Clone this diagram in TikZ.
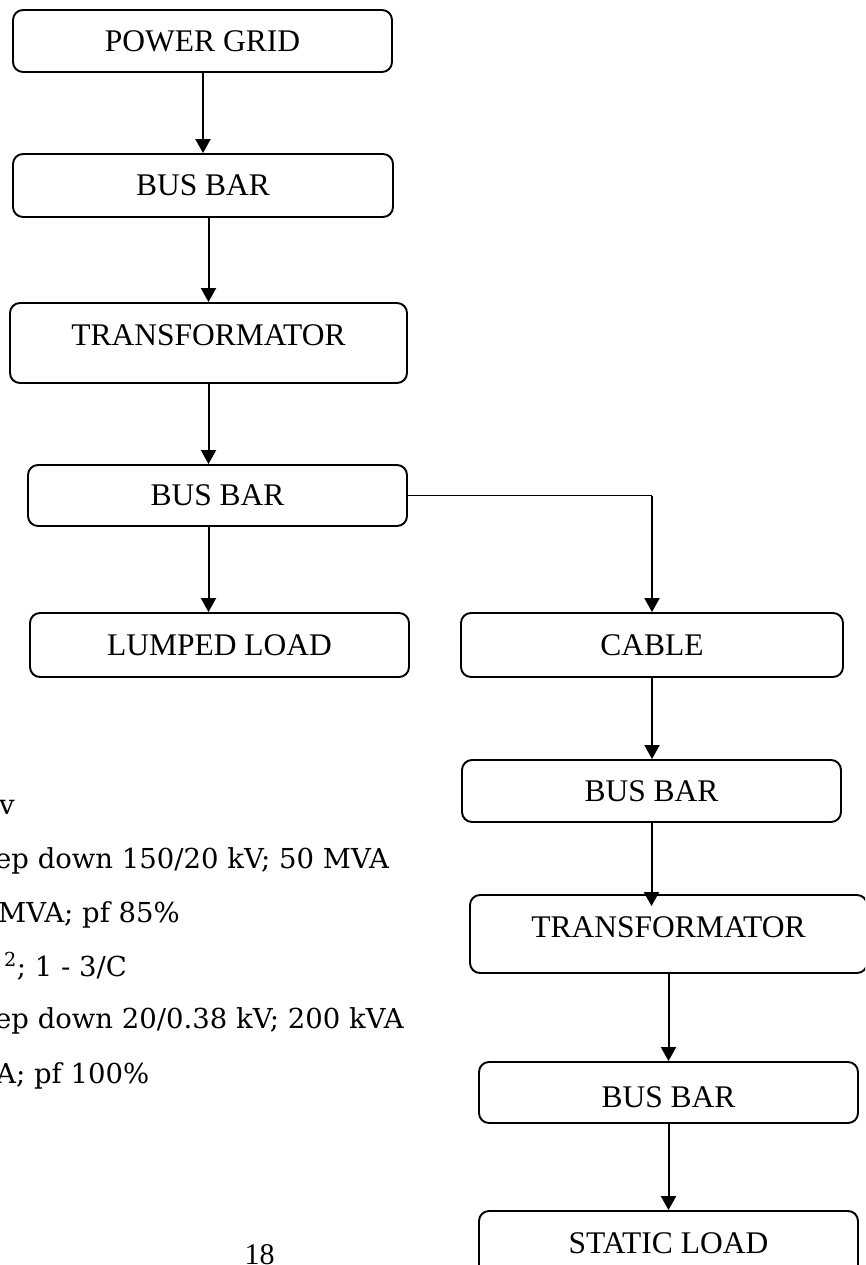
\documentclass[tikz,border=0pt]{standalone}
\usepackage{fontspec}
\setmainfont{Liberation Serif}
\newfontfamily\notefont{DejaVu Serif}
\usetikzlibrary{arrows.meta}
\begin{document}
\begin{tikzpicture}[x=1pt,y=-1pt,
  blk/.style={draw, line width=1.9pt, rounded corners=10pt, inner sep=0pt,
    font=\fontsize{31.5}{36}\selectfont},
  arr/.style={-{Triangle[length=14pt,width=15pt]}, line width=2pt},
  link/.style={line width=1.5pt},
  note/.style={anchor=base west, inner sep=0pt, font=\notefont\fontsize{27.5}{32}\selectfont}]
\clip (0,0) rectangle (865,1265);
\fill[white] (0,0) rectangle (865,1265);

% boxes
\node[blk, minimum width=379pt, minimum height=62pt] (pg)  at (202.5,41)   {POWER GRID};
\node[blk, minimum width=380pt, minimum height=63pt] (bb1) at (203,185.5)  {BUS BAR};
\node[blk, minimum width=397pt, minimum height=80pt] (tr1) at (208.5,343)  {\raisebox{7.5pt}[\height][\depth]{TRANSFORMATOR}};
\node[blk, minimum width=379pt, minimum height=61pt] (bb2) at (217.5,495.5){BUS BAR};
\node[blk, minimum width=379pt, minimum height=64pt] (ll)  at (219.5,645)  {LUMPED LOAD};
\node[blk, minimum width=382pt, minimum height=64pt] (cab) at (652,645)    {CABLE};
\node[blk, minimum width=379pt, minimum height=62pt] (bb3) at (651.5,791)  {BUS BAR};
\node[blk, minimum width=397pt, minimum height=78pt] (tr2) at (668.5,934)  {\raisebox{6.5pt}[\height][\depth]{TRANSFORMATOR}};
\node[blk, minimum width=379pt, minimum height=61pt] (bb4) at (668.5,1092.5){\raisebox{-4.5pt}[\height][\depth]{BUS BAR}};
\node[blk, minimum width=379pt, minimum height=64pt] (sl)  at (668.5,1243) {STATIC LOAD};

% connectors
\draw[arr] (pg.south -| bb1.north) -- (bb1.north);
\draw[arr] (bb1.south -| tr1.north) -- (tr1.north);
\draw[arr] (tr1.south) -- (tr1.south |- bb2.north);
\draw[arr] (bb2.south -| tr1.south) -- (ll.north -| tr1.south);
\draw[link] (bb2.east) -- (bb2.east -| cab.north);
\draw[arr, line width=1.8pt] (bb2.east -| cab.north) -- (cab.north);
\draw[arr] (cab.south) -- (cab.south |- bb3.north);
\draw[arr, shorten >=-12pt] (bb3.south) -- (bb3.south |- tr2.north);
\draw[arr] (tr2.south -| bb4.north) -- (bb4.north);
\draw[arr] (bb4.south) -- (sl.north);

% notes (cut by the page edge, as in the reference)
\node[note] (n1) at (-1,814)  {v};
\node[note] (n2) at (-5,868)  {ep down 150/20 kV; 50 MVA};
\node[note] (n3) at (-2,922)  {MVA; pf 85\%};
\node[note] (n4) at (4,976)   {\textsuperscript{2}; 1 - 3/C};
\node[note] (n5) at (-5,1028) {ep down 20/0.38 kV; 200 kVA};
\node[note] (n6) at (-4,1083) {A; pf 100\%};

% page number
\node[anchor=base, inner sep=0pt, font=\fontsize{30}{36}\selectfont] (pn) at (259.5,1264) {18};
\end{tikzpicture}
\end{document}
